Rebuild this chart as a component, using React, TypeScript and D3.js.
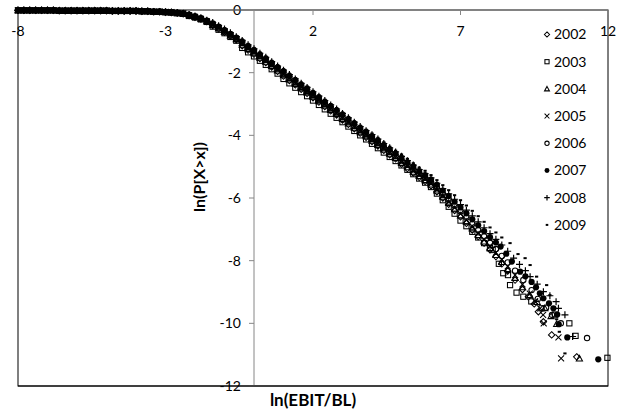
import React from "react";
import * as d3 from "d3";

const W = 624;
const H = 416;

const years = ["2002", "2003", "2004", "2005", "2006", "2007", "2008", "2009"];
const markerTypes = ["diamond", "square", "triangle", "x", "circle", "dot", "plus", "dash"];

const xTicks = [-8, -3, 2, 7, 12];
const yTicks = [0, -2, -4, -6, -8, -10, -12];

const xGrid = [-8,-7.8,-7.6,-7.4,-7.2,-7,-6.8,-6.6,-6.4,-6.2,-6,-5.8,-5.6,-5.4,-5.2,-5,-4.8,-4.6,-4.4,-4.2,-4,-3.8,-3.6,
  -3.4,-3.2,-3,-2.8,-2.6,-2.4,-2.2,-2,-1.8,-1.6,-1.4,-1.2,-1,-0.8,-0.6,-0.4,-0.2,0,0.2,0.4,0.6,0.8,
  1,1.2,1.4,1.6,1.8,2,2.2,2.4,2.6,2.8,3,3.2,3.4,3.6,3.8,4,4.2,4.4,4.6,4.8,5,5.2,5.4,5.6,5.8,6,
  6.2,6.4,6.6,6.8,7,7.2,7.4,7.6,7.8,8];

const y2002 = [-0.01,-0.01,-0.01,-0.01,-0.01,-0.01,-0.01,-0.02,-0.02,-0.02,-0.02,-0.02,-0.02,-0.02,-0.02,-0.02,-0.03,-0.03,-0.03,-0.03,-0.03,-0.04,-0.04,
  -0.06,-0.06,-0.07,-0.08,-0.10,-0.12,-0.18,-0.23,-0.29,-0.37,-0.50,-0.60,-0.71,-0.83,-0.95,-1.14,-1.28,-1.41,-1.55,-1.68,-1.82,-1.96,
  -2.11,-2.25,-2.39,-2.53,-2.66,-2.80,-2.94,-3.08,-3.22,-3.35,-3.51,-3.65,-3.79,-3.93,-4.06,-4.20,-4.34,-4.48,-4.62,-4.75,-4.92,-5.06,-5.20,-5.34,-5.47,-5.61,
  -5.80,-6.00,-6.20,-6.40,-6.60,-6.81,-7.02,-7.23,-7.44,-7.65];
const y2003 = [-0.01,-0.01,-0.01,-0.01,-0.01,-0.01,-0.01,-0.02,-0.02,-0.02,-0.02,-0.02,-0.02,-0.02,-0.02,-0.02,-0.03,-0.03,-0.03,-0.03,-0.03,-0.04,-0.04,
  -0.06,-0.06,-0.07,-0.08,-0.10,-0.12,-0.19,-0.24,-0.30,-0.38,-0.53,-0.63,-0.74,-0.86,-0.98,-1.21,-1.35,-1.48,-1.62,-1.75,-1.89,-2.03,
  -2.20,-2.34,-2.48,-2.62,-2.75,-2.89,-3.03,-3.17,-3.31,-3.44,-3.58,-3.72,-3.86,-4.00,-4.13,-4.27,-4.41,-4.55,-4.69,-4.82,-4.96,-5.10,-5.24,-5.38,-5.51,-5.65,
  -5.86,-6.07,-6.28,-6.50,-6.72,-6.90,-7.08,-7.26,-7.44,-7.60];
const y2004 = [-0.01,-0.01,-0.01,-0.01,-0.01,-0.01,-0.01,-0.02,-0.02,-0.02,-0.02,-0.02,-0.02,-0.02,-0.02,-0.02,-0.03,-0.03,-0.03,-0.03,-0.03,-0.04,-0.04,
  -0.06,-0.06,-0.07,-0.08,-0.10,-0.12,-0.17,-0.22,-0.28,-0.36,-0.48,-0.58,-0.69,-0.81,-0.93,-1.11,-1.25,-1.38,-1.52,-1.65,-1.79,-1.93,
  -2.08,-2.22,-2.36,-2.50,-2.63,-2.77,-2.91,-3.05,-3.19,-3.32,-3.48,-3.62,-3.76,-3.90,-4.03,-4.17,-4.31,-4.45,-4.59,-4.72,-4.88,-5.02,-5.16,-5.30,-5.43,-5.57,
  -5.76,-5.96,-6.16,-6.36,-6.56,-6.76,-6.97,-7.18,-7.39,-7.60];
const y2005 = [-0.01,-0.01,-0.01,-0.01,-0.01,-0.01,-0.01,-0.02,-0.02,-0.02,-0.02,-0.02,-0.02,-0.02,-0.02,-0.02,-0.03,-0.03,-0.03,-0.03,-0.03,-0.04,-0.04,
  -0.05,-0.05,-0.06,-0.07,-0.09,-0.11,-0.17,-0.22,-0.28,-0.36,-0.47,-0.57,-0.68,-0.80,-0.92,-1.09,-1.23,-1.36,-1.50,-1.63,-1.77,-1.91,
  -2.06,-2.20,-2.34,-2.48,-2.61,-2.75,-2.89,-3.03,-3.17,-3.30,-3.46,-3.60,-3.74,-3.88,-4.01,-4.15,-4.29,-4.43,-4.57,-4.70,-4.86,-5.00,-5.14,-5.28,-5.41,-5.55,
  -5.74,-5.93,-6.12,-6.31,-6.50,-6.70,-6.90,-7.11,-7.32,-7.53];
const y2006 = [-0.01,-0.01,-0.01,-0.01,-0.01,-0.01,-0.01,-0.02,-0.02,-0.02,-0.02,-0.02,-0.02,-0.02,-0.02,-0.02,-0.03,-0.03,-0.03,-0.03,-0.03,-0.04,-0.04,
  -0.05,-0.05,-0.06,-0.07,-0.09,-0.11,-0.16,-0.21,-0.27,-0.35,-0.45,-0.55,-0.66,-0.78,-0.90,-1.05,-1.19,-1.32,-1.46,-1.59,-1.73,-1.87,
  -2.02,-2.16,-2.30,-2.44,-2.57,-2.71,-2.85,-2.99,-3.13,-3.26,-3.42,-3.56,-3.70,-3.84,-3.97,-4.11,-4.25,-4.39,-4.53,-4.66,-4.80,-4.94,-5.08,-5.22,-5.35,-5.49,
  -5.67,-5.86,-6.05,-6.24,-6.43,-6.63,-6.83,-7.03,-7.23,-7.43];
const y2007 = [-0.01,-0.01,-0.01,-0.01,-0.01,-0.01,-0.01,-0.02,-0.02,-0.02,-0.02,-0.02,-0.02,-0.02,-0.02,-0.02,-0.03,-0.03,-0.03,-0.03,-0.03,-0.04,-0.04,
  -0.05,-0.05,-0.06,-0.07,-0.09,-0.11,-0.15,-0.20,-0.26,-0.34,-0.43,-0.53,-0.64,-0.76,-0.88,-1.01,-1.15,-1.28,-1.42,-1.55,-1.69,-1.83,
  -1.96,-2.10,-2.24,-2.38,-2.51,-2.65,-2.79,-2.93,-3.07,-3.20,-3.34,-3.48,-3.62,-3.76,-3.89,-4.03,-4.17,-4.31,-4.45,-4.58,-4.72,-4.86,-5.00,-5.14,-5.27,-5.41,
  -5.58,-5.76,-5.94,-6.12,-6.30,-6.49,-6.68,-6.87,-7.06,-7.25];
const y2008 = [-0.01,-0.01,-0.01,-0.01,-0.01,-0.01,-0.01,-0.02,-0.02,-0.02,-0.02,-0.02,-0.02,-0.02,-0.02,-0.02,-0.03,-0.03,-0.03,-0.03,-0.03,-0.04,-0.04,
  -0.05,-0.05,-0.06,-0.07,-0.09,-0.11,-0.14,-0.19,-0.25,-0.33,-0.40,-0.50,-0.61,-0.73,-0.85,-0.97,-1.11,-1.24,-1.38,-1.51,-1.65,-1.79,
  -1.92,-2.06,-2.20,-2.34,-2.47,-2.61,-2.75,-2.89,-3.03,-3.16,-3.30,-3.44,-3.58,-3.72,-3.85,-3.98,-4.12,-4.26,-4.40,-4.53,-4.67,-4.81,-4.95,-5.09,-5.22,-5.36,
  -5.53,-5.70,-5.87,-6.04,-6.21,-6.39,-6.57,-6.76,-6.95,-7.14];
const y2009 = [-0.01,-0.01,-0.01,-0.01,-0.01,-0.01,-0.01,-0.02,-0.02,-0.02,-0.02,-0.02,-0.02,-0.02,-0.02,-0.02,-0.03,-0.03,-0.03,-0.03,-0.03,-0.04,-0.04,
  -0.05,-0.05,-0.06,-0.07,-0.09,-0.11,-0.13,-0.18,-0.24,-0.32,-0.38,-0.48,-0.59,-0.71,-0.83,-0.94,-1.08,-1.21,-1.35,-1.48,-1.62,-1.76,
  -1.89,-2.03,-2.17,-2.31,-2.44,-2.58,-2.72,-2.86,-3.00,-3.13,-3.27,-3.41,-3.55,-3.69,-3.82,-3.94,-4.08,-4.22,-4.36,-4.49,-4.61,-4.75,-4.89,-5.03,-5.13,-5.27,
  -5.43,-5.59,-5.75,-5.91,-6.07,-6.24,-6.41,-6.58,-6.76,-6.94];

// sparse upper tails [x, y]
const tail2002 = [[8.2,-7.87],[8.4,-8.1],[8.6,-8.33],[8.85,-8.62],[9.1,-8.92],[9.3,-9.15],[9.5,-9.38],[9.64,-9.63],[9.81,-9.95],[10.09,-10.37],[10.94,-11.07]];
const tail2003 = [[8.09,-7.66],[8.3,-8.1],[8.45,-8.4],[8.61,-8.46],[8.68,-8.78],[8.9,-9.02],[9.13,-9.15],[9.4,-9.3],[9.75,-9.52],[10.2,-9.72],[10.69,-10.0],[10.9,-10.4],[11.98,-11.1]];
const tail2004 = [[8.2,-7.82],[8.4,-8.04],[8.6,-8.27],[8.85,-8.55],[9.1,-8.85],[9.35,-9.1],[9.6,-9.32],[9.86,-9.52],[10.07,-9.77],[10.26,-10.02],[11.03,-11.12]];
const tail2005 = [[8.2,-7.74],[8.4,-7.96],[8.6,-8.18],[8.85,-8.46],[9.1,-8.76],[9.35,-9.05],[9.53,-9.3],[9.7,-9.52],[9.8,-9.73],[9.82,-10.0],[10.32,-10.45],[10.41,-11.12]];
const tail2006 = [[8.2,-7.63],[8.4,-7.85],[8.6,-8.06],[8.85,-8.32],[9.13,-8.62],[9.41,-8.94],[9.62,-9.22],[9.9,-9.5],[10.1,-9.73],[10.4,-10.0],[11.29,-10.47]];
const tail2007 = [[8.2,-7.42],[8.36,-7.55],[8.55,-7.78],[8.74,-8.03],[9.02,-8.35],[9.2,-8.5],[9.41,-8.68],[9.56,-8.85],[9.69,-9.04],[9.81,-9.2],[10.0,-9.36],[10.15,-9.52],[10.28,-9.72],[10.33,-10.03],[10.62,-10.45],[11.67,-11.15]];
const tail2008 = [[8.2,-7.32],[8.4,-7.5],[8.6,-7.7],[8.8,-7.92],[9.0,-8.12],[9.2,-8.32],[9.36,-8.51],[9.6,-8.75],[9.81,-8.99],[10.03,-9.12],[10.24,-9.31],[10.32,-9.52],[10.54,-9.73],[10.8,-10.42]];
const tail2009 = [[8.2,-7.1],[8.4,-7.26],[8.68,-7.44],[8.95,-7.79],[9.19,-7.92],[9.36,-8.14],[9.58,-8.51],[9.92,-8.78],[10.03,-9.1],[10.26,-9.87],[10.35,-10.27],[10.54,-10.96]];

const seriesY = [y2002, y2003, y2004, y2005, y2006, y2007, y2008, y2009];
const seriesTail = [tail2002, tail2003, tail2004, tail2005, tail2006, tail2007, tail2008, tail2009];

const x = d3.scaleLinear().domain([-8, 12]).range([18, 608]);
const y = d3.scaleLinear().domain([-12, 0]).range([386, 10]);

const AXIS = "#868686";
const FONT = "Lato, 'Open Sans', sans-serif";

function Marker({ type, cx, cy, k = 1 }: { type: string; cx: number; cy: number; k?: number }) {
  const sw = 1.05;
  if (type === "diamond") {
    const r = 3.2 * k;
    return <path d={`M${cx},${cy - r}L${cx + r},${cy}L${cx},${cy + r}L${cx - r},${cy}Z`} fill="none" stroke="#000" strokeWidth={sw} />;
  }
  if (type === "square") {
    const r = 2.6 * k;
    return <rect x={cx - r} y={cy - r} width={2 * r} height={2 * r} fill="none" stroke="#000" strokeWidth={sw} />;
  }
  if (type === "triangle") {
    const r = 3.1 * k;
    return <path d={`M${cx},${cy - r}L${cx + r},${cy + r * 0.8}L${cx - r},${cy + r * 0.8}Z`} fill="none" stroke="#000" strokeWidth={sw} />;
  }
  if (type === "x") {
    const r = 3 * k;
    return <path d={`M${cx - r},${cy - r}L${cx + r},${cy + r}M${cx - r},${cy + r}L${cx + r},${cy - r}`} fill="none" stroke="#000" strokeWidth={sw} />;
  }
  if (type === "circle") {
    return <circle cx={cx} cy={cy} r={2.7 * k} fill="none" stroke="#000" strokeWidth={sw} />;
  }
  if (type === "dot") {
    return <circle cx={cx} cy={cy} r={3.1 * k} fill="#000" />;
  }
  if (type === "plus") {
    const r = 3.5 * k;
    return <path d={`M${cx - r},${cy}L${cx + r},${cy}M${cx},${cy - r}L${cx},${cy + r}`} fill="none" stroke="#000" strokeWidth={1.2} />;
  }
  // dash
  return <rect x={cx - 1.6 * k} y={cy - 1} width={3.2 * k} height={2} fill="#000" />;
}

export default function App() {
  const legendY0 = 34.5;
  const legendStep = 27.2;
  return (
    <svg width={W} height={H} style={{ position: "absolute", left: 0, top: 0, background: "#fff" }} fontFamily={FONT}>
      <rect x={0} y={0} width={W} height={H} fill="#fff" />
      {/* plot area border */}
      <rect x={x(-8)} y={y(0)} width={x(12) - x(-8)} height={y(-12) - y(0)} fill="none" stroke="#000" strokeWidth={1} />

      {/* y axis (at x = 0) */}
      <line x1={x(0)} x2={x(0)} y1={y(0)} y2={y(-12)} stroke={AXIS} strokeWidth={1} />
      {yTicks.map((t) => (
        <g key={"yt" + t}>
          <line x1={x(0) - 5} x2={x(0)} y1={y(t)} y2={y(t)} stroke={AXIS} strokeWidth={1} />
          <text x={x(0) - 13} y={y(t)} dy="0.35em" textAnchor="end" fontSize={14} fill="#000">{t}</text>
        </g>
      ))}

      {/* x axis (at y = 0, top) */}
      <line x1={x(-8)} x2={x(12)} y1={y(0)} y2={y(0)} stroke={AXIS} strokeWidth={1} />
      {xTicks.map((t) => (
        <g key={"xt" + t}>
          <line x1={x(t)} x2={x(t)} y1={y(0)} y2={y(0) + 5} stroke={AXIS} strokeWidth={1} />
          <text x={x(t)} y={36} textAnchor="middle" fontSize={14} fill="#000">{t}</text>
        </g>
      ))}

      {/* bottom border over labels */}
      <line x1={x(-8)} x2={x(12)} y1={y(-12)} y2={y(-12)} stroke="#000" strokeWidth={1} />

      {/* series */}
      {seriesY.map((ys, si) => (
        <g key={"s" + si}>
          {ys.map((v, i) => (
            <Marker key={i} type={markerTypes[si]} cx={x(xGrid[i])} cy={y(v)} />
          ))}
          {seriesTail[si].map((p, i) => (
            <Marker key={"t" + i} type={markerTypes[si]} cx={x(p[0])} cy={y(p[1])} />
          ))}
        </g>
      ))}

      {/* legend */}
      {years.map((yr, i) => (
        <g key={"lg" + yr}>
          <Marker type={markerTypes[i]} cx={547} cy={legendY0 + i * legendStep} k={0.8} />
          <text x={554} y={legendY0 + i * legendStep} dy="0.35em" fontSize={14} fill="#000">{yr}</text>
        </g>
      ))}

      {/* axis titles */}
      <text x={313} y={406} textAnchor="middle" fontSize={17} fontWeight="bold" fill="#000">ln(EBIT/BL)</text>
      <text transform={`translate(205,177) rotate(-90)`} textAnchor="middle" fontSize={16} fontWeight="bold" fill="#000">ln(P[X&gt;x])</text>
    </svg>
  );
}
